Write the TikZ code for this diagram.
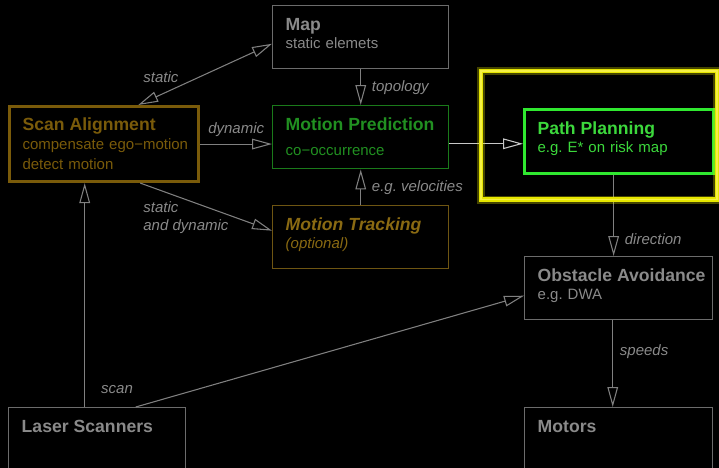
\documentclass[tikz,border=0pt]{standalone}
\usepackage{fontspec}
\setmainfont{Liberation Sans}
\usetikzlibrary{positioning, arrows.meta}
\frenchspacing

\definecolor{boxgray}{HTML}{6C6C6C}
\definecolor{txtgray}{HTML}{8A8A8A}
\definecolor{linegray}{HTML}{808080}
\definecolor{linelight}{HTML}{C8C8C8}
\definecolor{scangold}{HTML}{7A5B0A}
\definecolor{trackgold}{HTML}{6E5512}
\definecolor{tracktxt}{HTML}{8A6A12}
\definecolor{predgreen}{HTML}{1A7A1A}
\definecolor{predtxt}{HTML}{219021}
\definecolor{ppgreen}{HTML}{30E830}
\definecolor{pptxt}{HTML}{3CD83C}
\definecolor{glowyellow}{HTML}{E6E600}

% bold first line of a block
\newcommand{\blkttl}[1]{\mbox{\fontsize{13.2}{13.7}\selectfont\bfseries #1}}

\tikzset{
  blk/.style={
      rectangle,
      draw=boxgray,
      line width=1.1pt,
      anchor=north west,
      align=left,
      inner xsep=9.75pt,
      inner ysep=8.7pt,
      text height=9.6pt,
      text=txtgray,
      font=\fontsize{11.25}{13.7}\selectfont
    },
  lbl/.style={
      font=\fontsize{11.25}{13.5}\selectfont\itshape,
      text=txtgray,
      inner sep=2pt
    },
  arr/.style={
      -{Triangle[open, length=15pt, width=8pt]},
      draw=linegray,
      line width=0.8pt
    },
  dblarr/.style={
      {Triangle[open, length=15pt, width=8pt]}-{Triangle[open, length=15pt, width=8pt]},
      draw=linegray,
      line width=0.8pt
    }
}

\begin{document}
\begin{tikzpicture}[x=0.75pt, y=-0.75pt]
  \useasboundingbox (0,0) rectangle (719,468);
  \clip (0,0) rectangle (719,468);
  \fill[black] (0,0) rectangle (719,468);

  % blocks
  \node[blk, text width=112.5pt, text depth=20.25pt] (map) at (272,5) {\blkttl{Map}\\static elemets};
  \node[blk, draw=scangold, text=scangold, line width=2.3pt, text width=122.5pt, text depth=29.25pt] (scan) at (8,105)
    {\blkttl{Scan Alignment}\\\mbox{compensate ego−motion}\\[1.3pt]detect motion};
  \node[blk, draw=predgreen, text=predtxt, text width=112.5pt, text depth=20.25pt] (pred) at (272,105)
    {\blkttl{Motion Prediction}\\[5pt]co−occurrence};
  \node[blk, draw=trackgold, text=tracktxt, text width=112.5pt, text depth=20.25pt] (track) at (272,205)
    {\blkttl{\itshape Motion Tracking}\\{\itshape (optional)}};
  \node[blk, draw=ppgreen, text=pptxt, line width=2.4pt, text width=122.25pt, text depth=21pt] (pp) at (523,108)
    {\blkttl{Path Planning}\\e.g. E* on risk map};
  \node[blk, text width=121.5pt, text depth=20.25pt] (obs) at (524,256) {\blkttl{Obstacle Avoidance}\\e.g. DWA};
  \node[blk, text width=113.25pt, text depth=45pt] (laser) at (8,407) {\blkttl{Laser Scanners}};
  \node[blk, text width=121.5pt, text depth=45pt] (motors) at (524,407) {\blkttl{Motors}};

  % data flow
  \draw[dblarr] ([xshift=25.5pt]scan.north) -- node[lbl, pos=.17, above=6.5pt] {static} ([yshift=-4.9pt]map.west);
  \draw[arr] (scan.east) -- node[lbl, above=3pt] {dynamic} (scan.east -| pred.west);
  \draw[arr] ([xshift=27pt]scan.south) -- node[lbl, at start, anchor=north west, yshift=-11.5pt, align=left] {static\\and dynamic} ([yshift=4.9pt]track.west);
  \draw[arr] (map) -- node[lbl, right=6pt] {topology} (pred);
  \draw[arr] (track) -- node[lbl, right=6pt] {e.g. velocities} (pred);
  \draw[arr, draw=linelight] ([yshift=-4.9pt]pred.east) -- ([yshift=-4.9pt]pred.east -| pp.west);
  \draw[arr] ([xshift=-4.1pt]pp.south) -- node[lbl, pos=.79, right=6pt] {direction} ([xshift=-4.1pt]pp.south |- obs.north);
  \draw[arr] ([xshift=-4.5pt]obs.south) -- node[lbl, pos=.36, right=3pt] {speeds} ([xshift=-4.5pt]obs.south |- motors.north);
  \draw[arr] ([xshift=-9.4pt]laser.north) -- node[lbl, pos=.08, right=10pt] {scan} ([xshift=-9.4pt]laser.north |- scan.south);
  \draw[arr] ([xshift=28.9pt]laser.north) -- ([yshift=-5.6pt]obs.west);

  % highlight frame round the planner
  \draw[glowyellow, line width=6pt, opacity=.3] (481,71) rectangle (717,199.5);
  \draw[glowyellow, line width=3.4pt] (481,71) rectangle (717,199.5);
  \draw[yellow!55!white, line width=1pt, opacity=.6] (481,71) rectangle (717,199.5);
\end{tikzpicture}
\end{document}
